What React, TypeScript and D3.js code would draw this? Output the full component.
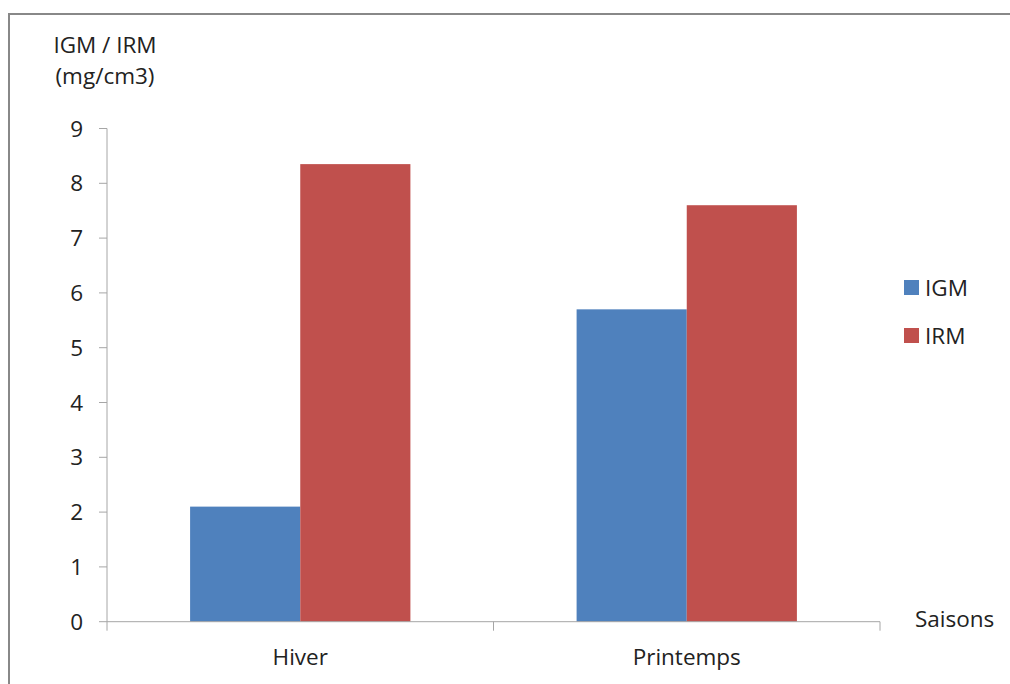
import React from "react";
import * as d3 from "d3";

const categories = ["Hiver", "Printemps"];
const seriesNames = ["IGM", "IRM"];
const seriesColors = ["#4F81BD", "#C0504D"];
const igmValues = [2.1, 5.7];
const irmValues = [8.35, 7.6];
const yTicks = [0, 1, 2, 3, 4, 5, 6, 7, 8, 9];

const FONT = "'Open Sans', Lato, sans-serif";

export default function App() {
  const left = 107;
  const right = 880;
  const y = d3.scaleLinear().domain([0, 9]).range([621.7, 128.5]);
  const x0 = d3.scaleBand<string>().domain(categories).range([left, right]).padding(0);
  const groupW = x0.bandwidth() * 0.57;
  const x1 = d3
    .scaleBand<string>()
    .domain(seriesNames)
    .range([(x0.bandwidth() - groupW) / 2, (x0.bandwidth() + groupW) / 2])
    .padding(0);
  const values = [igmValues, irmValues];
  const axisColor = "#A6A6A6";
  const textColor = "#222";
  const fs = 22.5;

  return (
    <svg
      width={1010}
      height={684}
      style={{ position: "absolute", left: 0, top: 0, background: "#fff" }}
      fontFamily={FONT}
    >
      <rect x={0} y={0} width={1010} height={684} fill="#fff" />
      {/* outer frame */}
      <path d="M9,700 L9,14 L1020,14" fill="none" stroke="#888" strokeWidth={2} />

      {/* y axis title */}
      <text x={105} y={53} textAnchor="middle" fontSize={fs} fill={textColor}>
        IGM / IRM
      </text>
      <text x={105} y={84} textAnchor="middle" fontSize={fs} fill={textColor}>
        (mg/cm3)
      </text>

      {/* bars */}
      {categories.map((c, ci) => (
        <g key={c} transform={`translate(${x0(c)},0)`}>
          {seriesNames.map((s, si) => (
            <rect
              key={s}
              x={x1(s)}
              y={y(values[si][ci])}
              width={x1.bandwidth()}
              height={y(0) - y(values[si][ci])}
              fill={seriesColors[si]}
            />
          ))}
        </g>
      ))}

      {/* y axis */}
      <line x1={left} x2={left} y1={y(9)} y2={y(0)} stroke={axisColor} strokeWidth={1} />
      {yTicks.map((t) => (
        <g key={t}>
          <line x1={left - 8} x2={left} y1={y(t)} y2={y(t)} stroke={axisColor} strokeWidth={1} />
          <text x={83} y={y(t)} dy="0.36em" textAnchor="end" fontSize={fs} fill={textColor}>
            {t}
          </text>
        </g>
      ))}

      {/* x axis */}
      <line x1={left} x2={right} y1={y(0)} y2={y(0)} stroke={axisColor} strokeWidth={1} />
      {[...categories.map((c) => x0(c) as number), right].map((px, i) => (
        <line key={i} x1={px} x2={px} y1={y(0)} y2={y(0) + 9} stroke={axisColor} strokeWidth={1} />
      ))}
      {categories.map((c) => (
        <text
          key={c}
          x={(x0(c) as number) + x0.bandwidth() / 2}
          y={665}
          textAnchor="middle"
          fontSize={fs}
          fill={textColor}
        >
          {c}
        </text>
      ))}
      <text x={915} y={627} fontSize={fs} fill={textColor}>
        Saisons
      </text>

      {/* legend */}
      {seriesNames.map((s, i) => (
        <g key={s} transform={`translate(904,${280 + i * 48})`}>
          <rect x={0} y={0} width={15} height={15} fill={seriesColors[i]} />
          <text x={21} y={15.5} fontSize={fs} fill={textColor}>
            {s}
          </text>
        </g>
      ))}
    </svg>
  );
}
